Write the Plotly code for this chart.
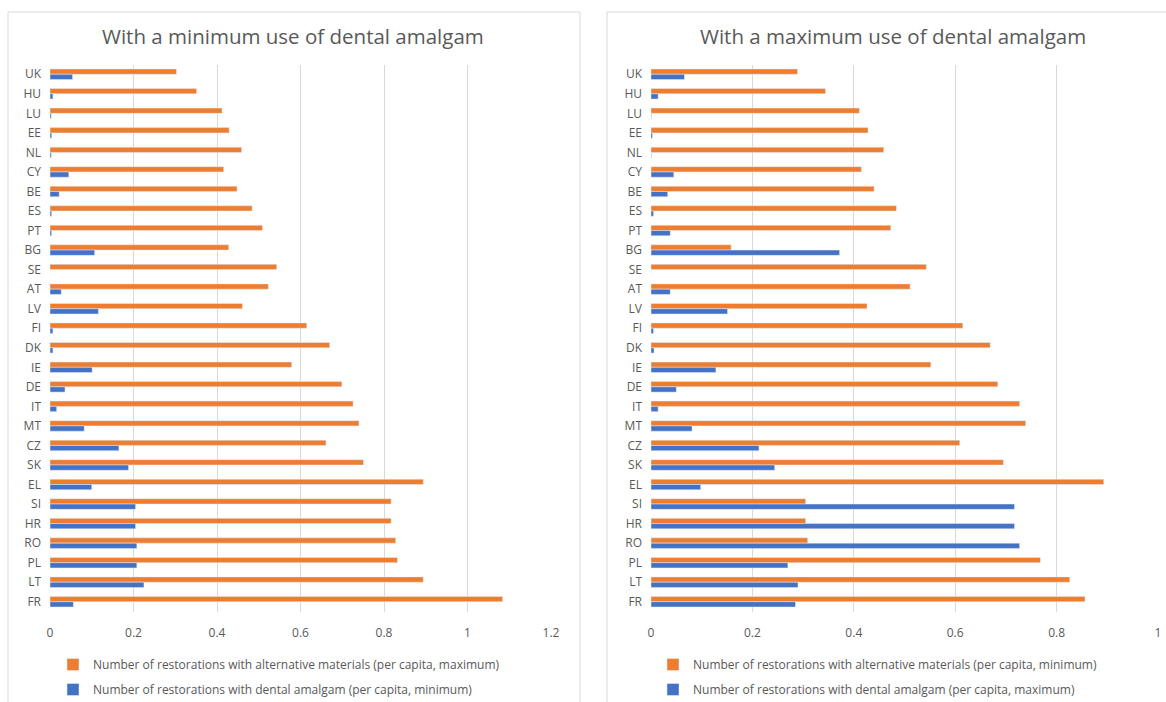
import plotly.graph_objects as go

countries = ["UK", "HU", "LU", "EE", "NL", "CY", "BE", "ES", "PT", "BG", "SE", "AT", "LV",
             "FI", "DK", "IE", "DE", "IT", "MT", "CZ", "SK", "EL", "SI", "HR", "RO", "PL", "LT", "FR"]

# Left panel: minimum use of dental amalgam
min_alt_max = [0.303, 0.351, 0.412, 0.429, 0.459, 0.416, 0.448, 0.484, 0.509, 0.428, 0.543, 0.523, 0.461,
               0.615, 0.670, 0.579, 0.699, 0.726, 0.740, 0.661, 0.751, 0.894, 0.817, 0.817, 0.828, 0.832, 0.894, 1.084]
min_amalgam_min = [0.054, 0.007, 0.003, 0.004, 0.003, 0.045, 0.022, 0.004, 0.004, 0.107, 0.0, 0.027, 0.116,
                   0.007, 0.007, 0.101, 0.036, 0.016, 0.082, 0.165, 0.188, 0.100, 0.205, 0.205, 0.208, 0.208, 0.225, 0.056]

# Right panel: maximum use of dental amalgam
max_alt_min = [0.289, 0.344, 0.411, 0.428, 0.459, 0.415, 0.440, 0.484, 0.473, 0.158, 0.543, 0.511, 0.426,
               0.615, 0.669, 0.552, 0.684, 0.727, 0.739, 0.609, 0.695, 0.893, 0.305, 0.305, 0.309, 0.768, 0.826, 0.856]
max_amalgam_max = [0.066, 0.014, 0.001, 0.003, 0.001, 0.045, 0.033, 0.005, 0.038, 0.372, 0.0, 0.038, 0.151,
                   0.005, 0.006, 0.128, 0.050, 0.014, 0.081, 0.213, 0.244, 0.098, 0.717, 0.717, 0.727, 0.270, 0.290, 0.285]

left_ticks = [0, 0.2, 0.4, 0.6, 0.8, 1, 1.2]
right_ticks = [0, 0.2, 0.4, 0.6, 0.8, 1]

titles = ["With a minimum use of dental amalgam", "With a maximum use of dental amalgam"]
legend_names = [
    ["Number of restorations with alternative materials (per capita, maximum)",
     "Number of restorations with dental amalgam (per capita, minimum)"],
    ["Number of restorations with alternative materials (per capita, minimum)",
     "Number of restorations with dental amalgam (per capita, maximum)"],
]

ORANGE = "#ED7D31"
BLUE = "#4472C4"
GRAY = "#595959"
GRID = "#D9D9D9"
FONT = "Open Sans"

W, H = 1166, 702
fig = go.Figure()

fig.add_trace(go.Bar(y=countries, x=min_alt_max, orientation="h", marker_color=ORANGE,
                     name=legend_names[0][0], xaxis="x", yaxis="y", legend="legend", legendgroup="a"))
fig.add_trace(go.Bar(y=countries, x=min_amalgam_min, orientation="h", marker_color=BLUE,
                     name=legend_names[0][1], xaxis="x", yaxis="y", legend="legend", legendgroup="b"))
fig.add_trace(go.Bar(y=countries, x=max_alt_min, orientation="h", marker_color=ORANGE,
                     name=legend_names[1][0], xaxis="x2", yaxis="y2", legend="legend2", legendgroup="c"))
fig.add_trace(go.Bar(y=countries, x=max_amalgam_max, orientation="h", marker_color=BLUE,
                     name=legend_names[1][1], xaxis="x2", yaxis="y2", legend="legend2", legendgroup="d"))

def px(x):
    return x / W

def py(y):
    return 1 - y / H

ydom = [py(611.5), py(64.5)]
xcommon = dict(showgrid=True, gridcolor=GRID, gridwidth=1, zeroline=False, showline=False,
               tickfont=dict(family=FONT, size=12, color=GRAY), ticks="", ticklabelstandoff=12,
               fixedrange=True, automargin=False)
ycommon = dict(autorange="reversed", showgrid=False, zeroline=False, showline=False, ticks="",
               tickfont=dict(family=FONT, size=12, color=GRAY), ticklabelstandoff=8, fixedrange=True,
               automargin=False)

legend_common = dict(orientation="v", bgcolor="rgba(0,0,0,0)", font=dict(family=FONT, size=12, color=GRAY),
                     tracegroupgap=6, traceorder="grouped", itemwidth=30, xanchor="left", yanchor="top")

fig.update_layout(
    width=W, height=H, margin=dict(l=0, r=0, t=0, b=0, autoexpand=False),
    paper_bgcolor="white", plot_bgcolor="white",
    barmode="group", bargap=0.46, bargroupgap=0,
    xaxis=dict(domain=[px(50), px(551)], range=[0, 1.2], tickvals=left_ticks,
               ticktext=[f"{v:g}" for v in left_ticks], anchor="y", **xcommon),
    yaxis=dict(domain=ydom, anchor="x", **ycommon),
    xaxis2=dict(domain=[px(651), px(1158)], range=[0, 1], tickvals=right_ticks,
                ticktext=[f"{v:g}" for v in right_ticks], anchor="y2", **xcommon),
    yaxis2=dict(domain=ydom, anchor="x2", **ycommon),
    legend=dict(x=px(53), y=py(650), **legend_common),
    legend2=dict(x=px(653), y=py(650), **legend_common),
    showlegend=True,
)

# panel borders
for x0, x1 in [(8, 580), (607, 1170)]:
    fig.add_shape(type="rect", xref="paper", yref="paper", x0=px(x0), x1=px(x1), y0=py(708), y1=py(12),
                  line=dict(color=GRID, width=1), fillcolor="rgba(0,0,0,0)", layer="below")

for t, cx in zip(titles, [293, 893]):
    fig.add_annotation(text=t, xref="paper", yref="paper", x=px(cx), y=py(36), showarrow=False,
                       xanchor="center", yanchor="middle", font=dict(family=FONT, size=20.5, color=GRAY))

fig.write_html("out.html", config={"displayModeBar": False, "staticPlot": False},
               post_script="document.body.style.margin='0';document.body.style.padding='0';"
                           "document.body.style.overflow='hidden';")
